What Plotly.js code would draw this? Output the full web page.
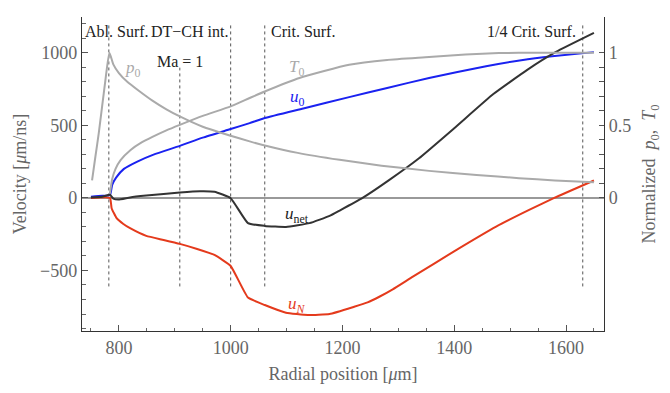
<!DOCTYPE html>
<html>
<head>
<meta charset="utf-8">
<script src="https://cdn.plot.ly/plotly-3.0.1.min.js"></script>
<style>html,body{margin:0;padding:0;background:#fff;}#chart{width:670px;height:393px;}</style>
</head>
<body>
<div id="chart"></div>
<script>
// ---- data (radial position in µm) ----
const p0X = [752, 758, 764, 770, 776, 783, 790, 800, 815, 835, 860, 885, 909, 950, 1000, 1034, 1061, 1120, 1195, 1270, 1355, 1440, 1516, 1580, 1650];
const p0Y = [0.12, 0.285, 0.446, 0.63, 0.814, 1.0, 0.92, 0.86, 0.80, 0.74, 0.67, 0.61, 0.561, 0.49, 0.428, 0.389, 0.361, 0.31, 0.262, 0.222, 0.186, 0.158, 0.136, 0.12, 0.107];

const t0X = [784, 788, 794, 803, 821, 840, 860, 885, 909, 950, 1000, 1034, 1061, 1123, 1212, 1280, 1355, 1420, 1480, 1550, 1650];
const t0Y = [0.03, 0.13, 0.20, 0.26, 0.33, 0.38, 0.42, 0.465, 0.503, 0.565, 0.630, 0.688, 0.733, 0.826, 0.917, 0.950, 0.970, 0.988, 0.998, 1.0, 1.0];

const u0X = [750, 770, 784, 788, 795, 809, 833, 862, 909, 950, 1000, 1034, 1061, 1130, 1212, 1280, 1355, 1457, 1520, 1575, 1650];
const u0Y = [8, 14, 20, 90, 140, 200, 250, 298, 358, 415, 474, 515, 550, 616, 694, 757, 826, 907, 948, 975, 1004];

const unetX = [750, 770, 784, 790, 799, 820, 849, 880, 909, 945, 971, 1000, 1031, 1061, 1099, 1141, 1177, 1195, 1236, 1284, 1337, 1400, 1470, 1530, 1582, 1650];
const unetY = [3, 8, 21, -5, -12, 3, 16, 27, 37, 46, 42, -2, -174, -193, -200, -174, -124, -87, 0, 124, 273, 480, 715, 880, 1005, 1136];

const uNX = [750, 784, 787, 796, 808, 820, 849, 880, 909, 940, 971, 1000, 1031, 1061, 1099, 1138, 1177, 1221, 1245, 1266, 1290, 1326, 1399, 1475, 1534, 1579, 1650];
const uNY = [0, 0, -71, -140, -180, -209, -262, -290, -317, -352, -393, -469, -687, -738, -791, -807, -800, -750, -720, -681, -630, -543, -370, -198, -83, 0, 120];

// vertical marker lines
const markX = [782, 909, 1000, 1061, 1630];
const markTop = [1205, 897, 1205, 1205, 1205];
const markBottom = -610;

// right-axis ticks
const rightTicks = [0, 0.5, 1];
const rightMinor = [0.1, 0.2, 0.3, 0.4, 0.6, 0.7, 0.8, 0.9];

const xTickMajor = 200;
const xTickMinor = 50;

// ---- plot ----
const serif = '"Liberation Serif", "Times New Roman", serif';
const gray = '#aaaaaa';
const blue = '#1a22f0';
const red = '#e43a1c';
const dark = '#333333';

const traces = [
  {x: p0X, y: p0Y, yaxis: 'y2', mode: 'lines', line: {color: gray, width: 2, shape: 'spline', smoothing: 0.5}},
  {x: t0X, y: t0Y, yaxis: 'y2', mode: 'lines', line: {color: gray, width: 2, shape: 'spline', smoothing: 0.5}},
  {x: u0X, y: u0Y, mode: 'lines', line: {color: blue, width: 2, shape: 'spline', smoothing: 0.5}},
  {x: uNX, y: uNY, mode: 'lines', line: {color: red, width: 2, shape: 'spline', smoothing: 0.4}},
  {x: unetX, y: unetY, mode: 'lines', line: {color: dark, width: 2, shape: 'spline', smoothing: 0.4}}
];

const shapes = markX.map((mx, i) => ({
  type: 'line', xref: 'x', yref: 'y', x0: mx, x1: mx, y0: markBottom, y1: markTop[i],
  line: {color: '#555', width: 1, dash: '3px,3px'}, layer: 'below'
}));

const lab = (x, y, text, color, opts) => Object.assign({
  x: x, y: y, xref: 'x', yref: 'y', text: text, showarrow: false,
  font: {family: serif, size: 16, color: color}, xanchor: 'center', yanchor: 'middle'
}, opts || {});

const annotations = [
  lab(736, 1145, 'Abl. Surf.', '#222', {xanchor: 'left'}),
  lab(1000, 1145, 'DT\u2212CH int.', '#222', {xanchor: 'right', xshift: -1}),
  lab(1061, 1145, 'Crit. Surf.', '#222', {xanchor: 'left', xshift: 4}),
  lab(909, 940, 'Ma = 1', '#222'),
  lab(1630, 1145, '1/4 Crit. Surf.', '#222', {xanchor: 'right', xshift: -5}),
  lab(826, 885, '<i>p</i><sub>0</sub>', gray, {font: {family: serif, size: 17, color: gray}}),
  lab(1118, 897, '<i>T</i><sub>0</sub>', gray, {font: {family: serif, size: 17, color: gray}}),
  lab(1120, 690, '<i>u</i><sub>0</sub>', blue, {font: {family: serif, size: 17, color: blue}}),
  lab(1118, -118, '<i>u</i><sub>net</sub>', '#222', {font: {family: serif, size: 17, color: '#222'}}),
  lab(1118, -738, '<i>u</i><sub><i>N</i></sub>', red, {font: {family: serif, size: 17, color: red}})
];

const tickFont = {family: serif, size: 18, color: '#666'};

const layout = {
  width: 670, height: 393,
  margin: {l: 82, r: 66, t: 17, b: 62},
  paper_bgcolor: '#fff', plot_bgcolor: '#fff',
  showlegend: false,
  font: {family: serif},
  xaxis: {
    range: [734, 1668], dtick: xTickMajor, tick0: 0,
    showgrid: false, zeroline: false, showline: true, linecolor: '#333', linewidth: 1.2,
    ticks: 'inside', ticklen: 6, tickcolor: '#555', tickfont: tickFont,
    minor: {dtick: xTickMinor, tick0: 0, ticks: 'inside', ticklen: 3.5, tickcolor: '#666'},
    title: {text: 'Radial position [<i>\u03bc</i>m]', font: {family: serif, size: 18, color: '#666'}, standoff: 10}
  },
  yaxis: {
    range: [-917, 1246], dtick: 500, tick0: 0,
    showgrid: false, zeroline: true, zerolinecolor: '#999', zerolinewidth: 1.3,
    showline: true, linecolor: '#333', linewidth: 1.2,
    ticks: 'inside', ticklen: 6, tickcolor: '#555', tickfont: tickFont,
    minor: {dtick: 100, tick0: 0, ticks: 'inside', ticklen: 3.5, tickcolor: '#666'},
    title: {text: 'Velocity [<i>\u03bc</i>m/ns]', font: {family: serif, size: 18, color: '#666'}, standoff: 8}
  },
  yaxis2: {
    overlaying: 'y', side: 'right', range: [-0.917, 1.246],
    tickmode: 'array', tickvals: rightTicks,
    showgrid: false, zeroline: false, showline: true, linecolor: '#333', linewidth: 1.2,
    ticks: 'inside', ticklen: 5, tickcolor: '#555', tickfont: tickFont,
    minor: {tickmode: 'array', tickvals: rightMinor, ticks: 'inside', ticklen: 5, tickcolor: '#555'},
    title: {text: 'Normalized  <i>p</i><sub>0</sub>,  <i>T</i><sub>0</sub>', font: {family: serif, size: 18, color: '#666'}, standoff: 12}
  },
  shapes: shapes,
  annotations: annotations
};

Plotly.newPlot('chart', traces, layout, {staticPlot: true, displayModeBar: false});
</script>
</body>
</html>
